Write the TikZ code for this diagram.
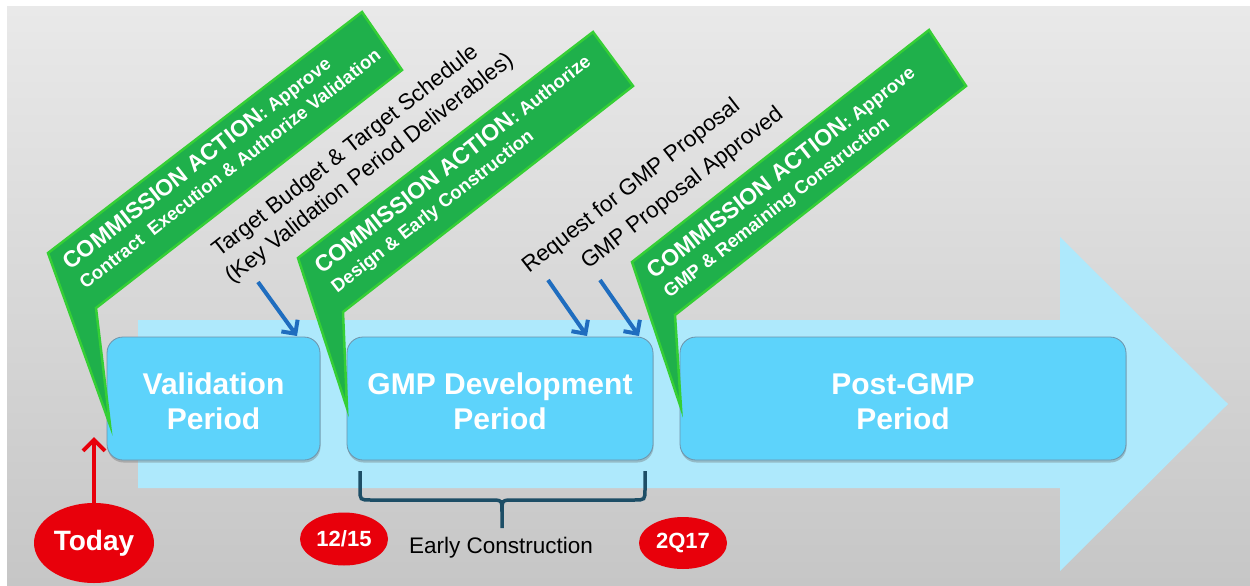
\documentclass[tikz,border=0pt]{standalone}
\usepackage{fontspec}
\setmainfont{Liberation Sans}
\usetikzlibrary{arrows.meta,calc,shapes.geometric,shadows}
\definecolor{bgtop}{HTML}{E9E9E9}
\definecolor{bgbot}{HTML}{C6C6C6}
\definecolor{arrowblue}{HTML}{AEE9FC}
\definecolor{boxblue}{HTML}{5DD3FB}
\definecolor{boxedge}{HTML}{6F93AA}
\definecolor{flaggreen}{HTML}{1FB04B}
\definecolor{flagedge}{HTML}{35CF35}
\definecolor{pointblue}{HTML}{1F6DBF}
\definecolor{datered}{HTML}{E8000B}
\definecolor{bracecol}{HTML}{1D4E66}
\begin{document}
\begin{tikzpicture}[x=1pt,y=-1pt,
  period/.style={draw=boxedge, line width=0.8pt, fill=boxblue, rounded corners=16pt,
    align=center, text=white, font=\fontsize{30}{35}\selectfont\bfseries, inner sep=0pt,
    text height=63pt,
    drop shadow={shadow xshift=0.5pt, shadow yshift=-2.5pt, opacity=0.35, fill=black!60}},
  flag/.style={fill=flaggreen, draw=flagedge, line width=2.5pt, line join=miter},
  flagtxt/.style={rotate=38, anchor=base west, text=white, inner sep=0pt, font=\bfseries},
  note/.style={rotate=38, anchor=base west, text=black, inner sep=0pt, font=\fontsize{22.5}{26}\selectfont},
  pointer/.style={draw=pointblue, line width=4pt, -{Straight Barb[length=10pt, width=20pt]}},
  redpointer/.style={draw=datered, line width=4pt, -{Straight Barb[length=11pt, width=22pt]}},
  datebub/.style={ellipse, fill=datered, text=white, inner sep=0pt},
  brace/.style={draw=bracecol, line width=3.5pt}
]
\useasboundingbox (0,0) rectangle (1250,586);
\fill[white] (0,0) rectangle (1250,586);
\shade[top color=bgtop, bottom color=bgbot] (7,7) rectangle (1250,586);

% big arrow
\fill[arrowblue] (138,320) -- (1060,320) -- (1060,237) -- (1228,404) -- (1060,571) -- (1060,488) -- (138,488) -- cycle;

% period boxes
\node[period, minimum width=213pt, minimum height=123pt] (val) at (213.5,398.5) {Validation\\Period};
\node[period, minimum width=306pt, minimum height=123pt] (gmp) at (500,398.5) {GMP Development\\Period};
\node[period, minimum width=446pt, minimum height=123pt] (post) at (903,398.5) {Post-GMP\\Period};

% flags
\coordinate (f1L) at (48,253);
\coordinate (f2L) at (298,258);
\coordinate (f3L) at (632,262);
\draw[flag] (f1L) -- (362,12) -- (402,70) -- (96,308) -- (110,425) -- cycle;
\draw[flag] (f2L) -- (593,32) -- (633,86) -- (343,312) -- (347,408) -- cycle;
\draw[flag] (f3L) -- (929,30) -- (966,86) -- (675,315) -- (681,408) -- cycle;

\node[flagtxt] (f1a) at ($(f1L)+(-38:7)+(52:28)$) {\fontsize{23}{26}\selectfont COMMISSION ACTION\fontsize{18.5}{22}\selectfont: Approve};
\node[flagtxt] (f1b) at ($(f1L)+(-38:7)+(52:52)$) {\fontsize{18.5}{22}\selectfont Contract~ Execution \& Authorize Validation};
\node[flagtxt] (f2a) at ($(f2L)+(-38:9)+(52:28)$) {\fontsize{23}{26}\selectfont COMMISSION ACTION\fontsize{18.5}{22}\selectfont: Authorize};
\node[flagtxt] (f2b) at ($(f2L)+(-38:9)+(52:52)$) {\fontsize{18.5}{22}\selectfont Design \& Early Construction};
\node[flagtxt] (f3a) at ($(f3L)+(-38:7)+(52:28)$) {\fontsize{23}{26}\selectfont COMMISSION ACTION\fontsize{18.5}{22}\selectfont: Approve};
\node[flagtxt] (f3b) at ($(f3L)+(-38:7)+(52:52)$) {\fontsize{18.5}{22}\selectfont GMP \& Remaining Construction};

% notes
\node[note] (tb1) at (219,258) {Target Budget \& Target Schedule};
\node[note] (tb2) at (232,284) {(Key Validation Period Deliverables)};
\node[note] (rq) at (529,274) {Request for GMP Proposal};
\node[note] (ap) at (588,270) {GMP Proposal Approved};

\coordinate (p1s) at (258,282); \coordinate (p1e) at (297,336);
\coordinate (p2s) at (548,280); \coordinate (p2e) at (587,336);
\coordinate (p3s) at (600,280); \coordinate (p3e) at (639,336);
\draw[pointer] (p1s) -- (p1e);
\draw[pointer] (p2s) -- (p2e);
\draw[pointer] (p3s) -- (p3e);

% brace
\coordinate (brL) at (360,471);
\coordinate (brR) at (645,471);
\coordinate (brM) at (502,528);
\draw[brace] (brL) -- (360,489) .. controls (360,500) .. (371,500) -- (490,500) .. controls (502,500) .. (502,512) -- (brM);
\draw[brace] (brR) -- (645,489) .. controls (645,500) .. (634,500) -- (514,500) .. controls (502,500) .. (502,512);
\node[anchor=base, inner sep=0pt, font=\fontsize{22.5}{26}\selectfont] (ec) at (501,553) {Early Construction};

% dates
\node[datebub, minimum width=120pt, minimum height=80pt, font=\fontsize{28}{30}\selectfont\bfseries] (today) at (94,543) {Today};
\node[datebub, minimum width=88pt, minimum height=53pt, font=\fontsize{22}{26}\selectfont\bfseries] (d1) at (344,539) {12/15};
\node[datebub, minimum width=88pt, minimum height=52pt, font=\fontsize{22}{26}\selectfont\bfseries] (d2) at (683,543) {2Q17};
\coordinate (tdy) at (94,437);
\draw[redpointer] (today.north) -- (tdy);
\end{tikzpicture}
\end{document}
